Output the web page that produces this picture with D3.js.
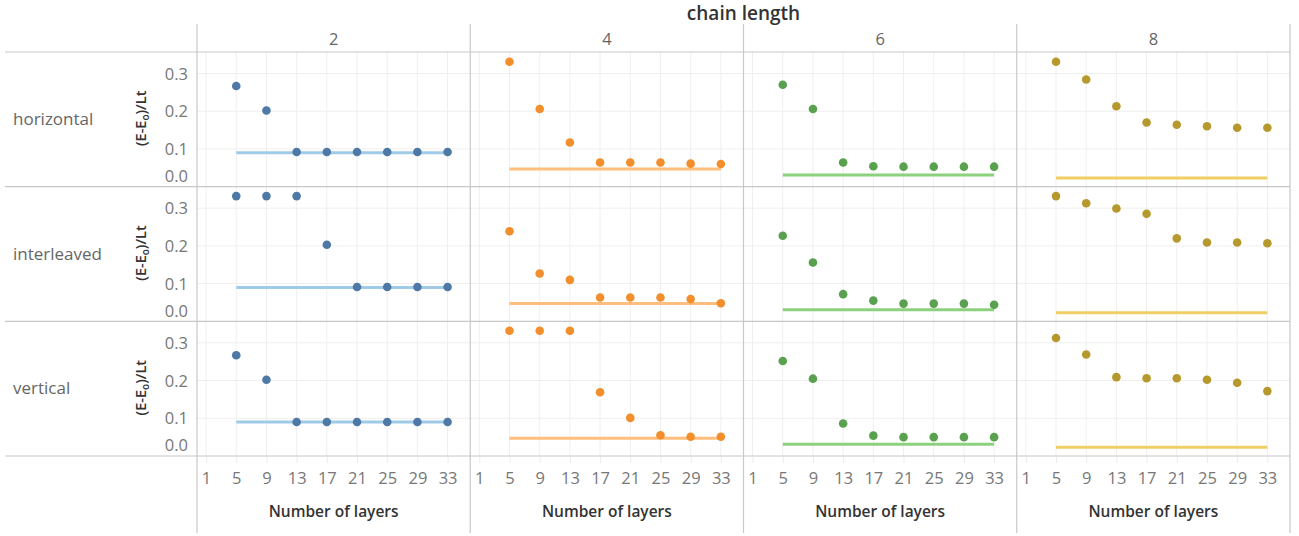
<!DOCTYPE html>
<html>
<head>
<meta charset="utf-8">
<script src="https://cdn.jsdelivr.net/npm/d3@7"></script>
<style>
  html, body { margin: 0; padding: 0; background: #fff; }
  svg { display: block; font-family: "Open Sans", Lato, sans-serif; }
</style>
</head>
<body>
<svg id="chart" width="1299" height="536"></svg>
<script>
// ---------- data ----------
const chainLengths = ["2", "4", "6", "8"];
const orientations = ["horizontal", "interleaved", "vertical"];
const layers = [5, 9, 13, 17, 21, 25, 29, 33];
const xTicks = [1, 5, 9, 13, 17, 21, 25, 29, 33];
const yTicks = [0.0, 0.1, 0.2, 0.3];

const horizontal2 = [0.267, 0.202, 0.092, 0.092, 0.092, 0.092, 0.092, 0.092];
const horizontal4 = [0.331, 0.206, 0.117, 0.064, 0.064, 0.064, 0.061, 0.060];
const horizontal6 = [0.270, 0.206, 0.064, 0.054, 0.053, 0.053, 0.053, 0.053];
const horizontal8 = [0.331, 0.284, 0.213, 0.170, 0.164, 0.160, 0.156, 0.156];

const interleaved2 = [0.332, 0.332, 0.332, 0.203, 0.091, 0.091, 0.091, 0.091];
const interleaved4 = [0.239, 0.127, 0.110, 0.063, 0.063, 0.063, 0.059, 0.048];
const interleaved6 = [0.227, 0.156, 0.072, 0.055, 0.047, 0.047, 0.047, 0.044];
const interleaved8 = [0.332, 0.313, 0.299, 0.285, 0.220, 0.209, 0.209, 0.207];

const vertical2 = [0.267, 0.202, 0.090, 0.090, 0.090, 0.090, 0.090, 0.090];
const vertical4 = [0.332, 0.332, 0.332, 0.169, 0.101, 0.055, 0.051, 0.051];
const vertical6 = [0.252, 0.205, 0.086, 0.054, 0.050, 0.050, 0.050, 0.050];
const vertical8 = [0.313, 0.269, 0.209, 0.206, 0.206, 0.202, 0.194, 0.172];

// reference level (horizontal line from 5 to 33) per chain length
const referenceLevel = [0.090, 0.047, 0.031, 0.023];
const refRange = [5, 33];

const seriesValues = [
  [horizontal2, horizontal4, horizontal6, horizontal8],
  [interleaved2, interleaved4, interleaved6, interleaved8],
  [vertical2, vertical4, vertical6, vertical8]
];

const pointColors = ["#4e79a7", "#f28e2b", "#59a14f", "#b6992d"];
const lineColors  = ["#a0cbe8", "#ffbe7d", "#8cd17d", "#f1ce63"];

// ---------- layout ----------
const svg = d3.select("#chart");
const leftX = 5, colX0 = 197, rightX = 1290;
const colW = (rightX - colX0) / chainLengths.length;
const rowY0 = 52, rowY1 = 456;
const rowH = (rowY1 - rowY0) / orientations.length;
const colTopY = 24, colBottomY = 533;

const sepColor = "#c8c8c8";
const gridColor = "#efefef";
const tickFont = 16.5;

svg.append("text")
  .attr("x", colX0 + (rightX - colX0) / 2).attr("y", 20)
  .attr("text-anchor", "middle")
  .attr("font-size", 19).attr("font-weight", 600).attr("fill", "#333")
  .text("chain length");

chainLengths.forEach((c, j) => {
  svg.append("text")
    .attr("x", colX0 + colW * j + colW / 2).attr("y", 45)
    .attr("text-anchor", "middle")
    .attr("font-size", 16.5).attr("fill", "#666")
    .text(c);
});

const x = d3.scaleLinear().domain([-0.2, 36]);
const yDomain = [0, 0.357];

orientations.forEach((o, i) => {
  const top = rowY0 + rowH * i, bottom = top + rowH;
  const y = d3.scaleLinear().domain(yDomain).range([bottom, top]);

  svg.append("text")
    .attr("x", 13).attr("y", top + rowH / 2 + 1)
    .attr("dominant-baseline", "middle")
    .attr("font-size", 17).attr("fill", "#666")
    .text(o);

  const t = svg.append("text")
    .attr("transform", `translate(${146},${top + rowH / 2 - 1}) rotate(-90)`)
    .attr("text-anchor", "middle")
    .attr("font-size", 14.5).attr("font-weight", 600).attr("fill", "#333");
  t.append("tspan").text("(E-E");
  t.append("tspan").attr("font-size", 10).attr("dy", 3).text("o");
  t.append("tspan").attr("dy", -3).text(")/Lt");

  const yAxis = d3.axisLeft(y).tickValues(yTicks).tickSize(0).tickPadding(0)
    .tickFormat(d3.format(".1f"));
  const ya = svg.append("g").attr("transform", `translate(${188},0)`).call(yAxis);
  ya.select(".domain").remove();
  ya.selectAll("text")
    .attr("font-size", tickFont).attr("fill", "#777")
    .attr("font-family", "'Open Sans', Lato, sans-serif")
    .attr("dy", d => d === 0 ? "-0.32em" : "0.34em");

  chainLengths.forEach((c, j) => {
    const left = colX0 + colW * j;
    const xs = x.copy().range([left, left + colW]);
    const g = svg.append("g");

    g.selectAll("line.vg").data(xTicks).join("line")
      .attr("x1", d => xs(d)).attr("x2", d => xs(d))
      .attr("y1", top).attr("y2", bottom)
      .attr("stroke", gridColor).attr("stroke-width", 1);
    g.selectAll("line.hg").data(yTicks.filter(d => d > 0)).join("line")
      .attr("x1", left).attr("x2", left + colW)
      .attr("y1", d => y(d)).attr("y2", d => y(d))
      .attr("stroke", gridColor).attr("stroke-width", 1);

    g.append("line")
      .attr("x1", xs(refRange[0])).attr("x2", xs(refRange[1]))
      .attr("y1", y(referenceLevel[j])).attr("y2", y(referenceLevel[j]))
      .attr("stroke", lineColors[j]).attr("stroke-width", 3);

    const vals = seriesValues[i][j];
    g.selectAll("circle").data(layers.map((l, k) => ({ l, v: vals[k] }))).join("circle")
      .attr("cx", d => xs(d.l)).attr("cy", d => y(d.v))
      .attr("r", 4.3).attr("fill", pointColors[j]);
  });
});

chainLengths.forEach((c, j) => {
  const left = colX0 + colW * j;
  const xs = x.copy().range([left, left + colW]);
  const xa = svg.append("g").attr("transform", `translate(0,${rowY1})`)
    .call(d3.axisBottom(xs).tickValues(xTicks).tickSize(7).tickPadding(9));
  xa.select(".domain").remove();
  xa.selectAll(".tick line").attr("stroke", "#ececec");
  xa.selectAll("text").attr("font-size", tickFont).attr("fill", "#777")
    .attr("font-family", "'Open Sans', Lato, sans-serif");
  svg.append("text")
    .attr("x", left + colW / 2).attr("y", 517)
    .attr("text-anchor", "middle")
    .attr("font-size", 15.5).attr("font-weight", 600).attr("fill", "#333")
    .text("Number of layers");
});

[rowY0, rowY0 + rowH, rowY0 + 2 * rowH, rowY1].forEach(yy => {
  svg.append("line").attr("x1", leftX).attr("x2", rightX)
    .attr("y1", yy).attr("y2", yy)
    .attr("stroke", sepColor).attr("stroke-width", 1.2);
});
d3.range(chainLengths.length + 1).forEach(j => {
  const xx = colX0 + colW * j;
  svg.append("line").attr("x1", xx).attr("x2", xx)
    .attr("y1", colTopY).attr("y2", colBottomY)
    .attr("stroke", sepColor).attr("stroke-width", 1.2);
});
</script>
</body>
</html>
